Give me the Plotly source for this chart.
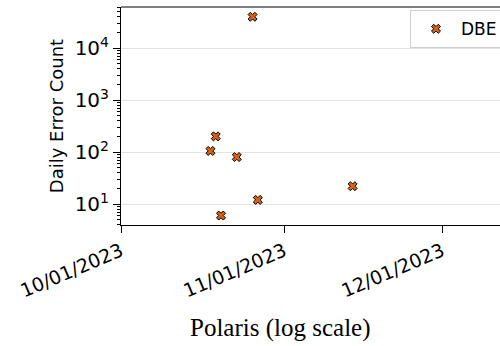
import plotly.graph_objects as go

dates = ["2023-10-18", "2023-10-19", "2023-10-20", "2023-10-23",
         "2023-10-26", "2023-10-27", "2023-11-14"]
counts = [105, 200, 6, 80, 40000, 12, 22]
series_name = "DBE"
x_tick_vals = ["2023-10-01", "2023-11-01", "2023-12-01"]
x_tick_text = ["10/01/2023", "11/01/2023", "12/01/2023"]
y_tick_vals = [10, 100, 1000, 10000]
y_tick_text = ["10<sup>1</sup>", "10<sup>2</sup>", "10<sup>3</sup>", "10<sup>4</sup>"]

fig = go.Figure()
fig.add_trace(go.Scatter(
    x=dates, y=counts, mode="markers", name=series_name,
    marker=dict(symbol="x", size=8, color="#d9620f",
                line=dict(color="black", width=1)),
))

font = "DejaVu Sans"
fig.update_layout(
    width=500, height=346, autosize=False,
    margin=dict(l=121, r=0, t=7, b=121, autoexpand=False),
    plot_bgcolor="white", paper_bgcolor="white",
    font=dict(family=font, size=18, color="black"),
    showlegend=True,
    legend=dict(x=0.7625, y=0.985, xanchor="left", yanchor="top",
                bgcolor="white", bordercolor="#d0d0d0", borderwidth=1,
                font=dict(size=17, family=font), itemwidth=40),
    xaxis=dict(type="date", range=["2023-10-01", "2023-12-12"],
               tickvals=x_tick_vals, ticktext=x_tick_text, tickangle=-23,
               ticks="outside", ticklen=7, tickcolor="black",
               showline=True, linecolor="black", linewidth=1,
               showgrid=False, zeroline=False,
               tickfont=dict(size=19, family=font)),
    yaxis=dict(type="log", range=[0.596, 4.79],
               tickvals=y_tick_vals, ticktext=y_tick_text,
               ticks="outside", ticklen=7, tickcolor="black",
               showline=True, linecolor="black", linewidth=1,
               showgrid=True, gridcolor="#e3e3e3", gridwidth=1,
               zeroline=False,
               minor=dict(ticks="outside", ticklen=3, tickcolor="black",
                          dtick="D1", showgrid=False),
               tickfont=dict(size=20, family=font),
               title=dict(text="Daily Error Count", standoff=6,
                          font=dict(size=18, family=font))),
)
fig.add_shape(type="line", xref="paper", yref="paper", x0=0, x1=1, y0=1, y1=1,
              line=dict(color="black", width=1))
fig.add_annotation(text="Polaris (log scale)", xref="paper", yref="paper",
                   x=(280 - 121) / 379, y=-(328 - 225) / 218,
                   xanchor="center", yanchor="middle", showarrow=False,
                   font=dict(family="Liberation Serif", size=25, color="black"))
fig.write_html("out.html", config={"displayModeBar": False},
               post_script="document.body.style.margin='0px';document.body.style.overflow='hidden';")
